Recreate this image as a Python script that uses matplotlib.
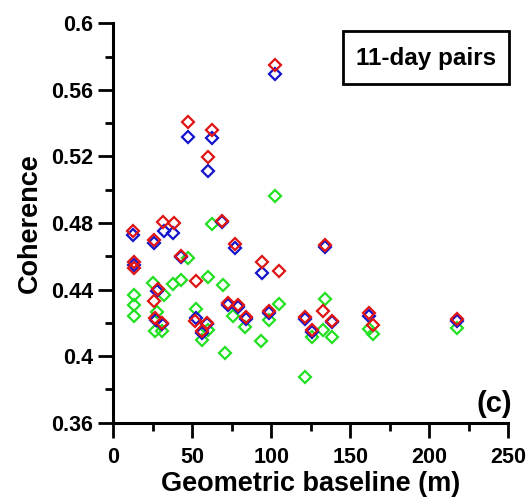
import matplotlib
matplotlib.use('Agg')
import matplotlib.pyplot as plt
from matplotlib.ticker import MultipleLocator
from matplotlib.patches import Rectangle

plt.rcParams['font.family'] = ['Liberation Sans', 'DejaVu Sans']
plt.rcParams['font.weight'] = 'bold'

# red series
red_x = [12.7, 13.1, 13.1, 25.9, 31.6, 38.4, 42.8, 52.2, 28.1, 25.9, 26.4, 31.0,
         51.7, 59.1, 55.9, 68.6, 77.0, 93.9, 105.1, 72.8, 79.1, 83.8, 98.7, 134.0,
         121.3, 125.6, 132.5, 138.2, 162.0, 164.2, 217.3, 102.3, 47.1, 62.7, 60.1]
red_y = [0.4752, 0.4567, 0.4528, 0.4698, 0.4808, 0.4798, 0.4601, 0.4453, 0.4401,
         0.4334, 0.4227, 0.4201, 0.4213, 0.4201, 0.4154, 0.4814, 0.4674, 0.4564,
         0.4513, 0.4321, 0.4307, 0.4233, 0.4273, 0.4665, 0.4233, 0.4157, 0.4273,
         0.4213, 0.4257, 0.4187, 0.4221, 0.5749, 0.5409, 0.5359, 0.5198]

# blue series
blue_x = [12.7, 13.1, 25.9, 32.1, 38.0, 42.8, 27.7, 26.7, 52.2, 55.9, 68.6, 77.0,
          93.9, 72.8, 79.1, 83.8, 134.0, 121.3, 125.6, 138.2, 162.0, 102.3, 47.1,
          62.7, 60.1, 98.7, 31.0, 59.1, 217.3]
blue_y = [0.4728, 0.4549, 0.4682, 0.4754, 0.4738, 0.4594, 0.4392, 0.4217, 0.4229,
          0.4139, 0.4806, 0.4648, 0.4501, 0.4307, 0.4297, 0.4223, 0.4654, 0.4221,
          0.4145, 0.4205, 0.4241, 0.5693, 0.5318, 0.5312, 0.5114, 0.4262, 0.4192,
          0.4192, 0.4214]

# green series
green_x = [13.1, 13.1, 13.1, 25.3, 32.3, 38.0, 42.8, 60.1, 47.5, 62.7, 69.6, 52.2,
           27.5, 26.4, 31.0, 60.1, 55.9, 70.7, 75.9, 83.4, 105.1, 98.7, 93.5, 102.3,
           121.3, 125.6, 134.0, 132.5, 138.2, 162.0, 164.2, 217.3]
green_y = [0.4367, 0.4307, 0.4239, 0.4441, 0.4367, 0.4433, 0.4457, 0.4477, 0.4588,
           0.4794, 0.4427, 0.4281, 0.4267, 0.4153, 0.4153, 0.4157, 0.4097, 0.4020,
           0.4241, 0.4173, 0.4313, 0.4217, 0.4092, 0.4964, 0.3876, 0.4117, 0.4343,
           0.4157, 0.4117, 0.4161, 0.4133, 0.4167]

y_ticks = [0.36, 0.40, 0.44, 0.48, 0.52, 0.56, 0.60]
y_ticklabels = ['0.36', '0.4', '0.44', '0.48', '0.52', '0.56', '0.6']
x_ticks = [0, 50, 100, 150, 200, 250]

fig = plt.figure(figsize=(5.29, 4.98), dpi=100)
ax = fig.add_axes([0.2142, 0.1512, 0.747, 0.802])

mk = dict(marker='D', ms=6.2, mfc='none', mew=1.6, ls='none', clip_on=False)
ax.plot(green_x, green_y, color='#22e022', **mk)
ax.plot(blue_x, blue_y, color='#1414cc', **mk)
ax.plot(red_x, red_y, color='#e01414', **mk)

ax.set_xlim(0, 250)
ax.set_ylim(0.36, 0.6)
ax.set_xticks(x_ticks)
ax.set_xticklabels([str(v) for v in x_ticks])
ax.set_yticks(y_ticks)
ax.set_yticklabels(y_ticklabels)
ax.xaxis.set_minor_locator(MultipleLocator(25))
ax.yaxis.set_minor_locator(MultipleLocator(0.02))

for s in ['top', 'right']:
    ax.spines[s].set_visible(False)
for s in ['left', 'bottom']:
    ax.spines[s].set_linewidth(2.2)

ax.tick_params(which='major', direction='out', length=10.5, width=2.0, labelsize=15.5)
ax.tick_params(which='minor', direction='out', length=5.5, width=2.0)
ax.tick_params(axis='x', which='major', pad=7)
ax.tick_params(axis='y', which='major', pad=4)

ax.set_xlabel('Geometric baseline (m)', fontsize=19.5, fontweight='bold', labelpad=2)
ax.set_ylabel('Coherence', fontsize=19.5, fontweight='bold', labelpad=6)

# label box
ax.add_patch(Rectangle((0.581, 0.847), 0.421, 0.134, transform=ax.transAxes,
                       fc='white', ec='black', lw=2, clip_on=False, zorder=3))
ax.text(0.7915, 0.912, '11-day pairs', transform=ax.transAxes, ha='center', va='center',
        fontsize=17.5, fontweight='bold', zorder=4)
ax.text(1.008, 0.012, '(c)', transform=ax.transAxes, ha='right', va='bottom',
        fontsize=21, fontweight='bold')

fig.savefig('out.png', dpi=100)
